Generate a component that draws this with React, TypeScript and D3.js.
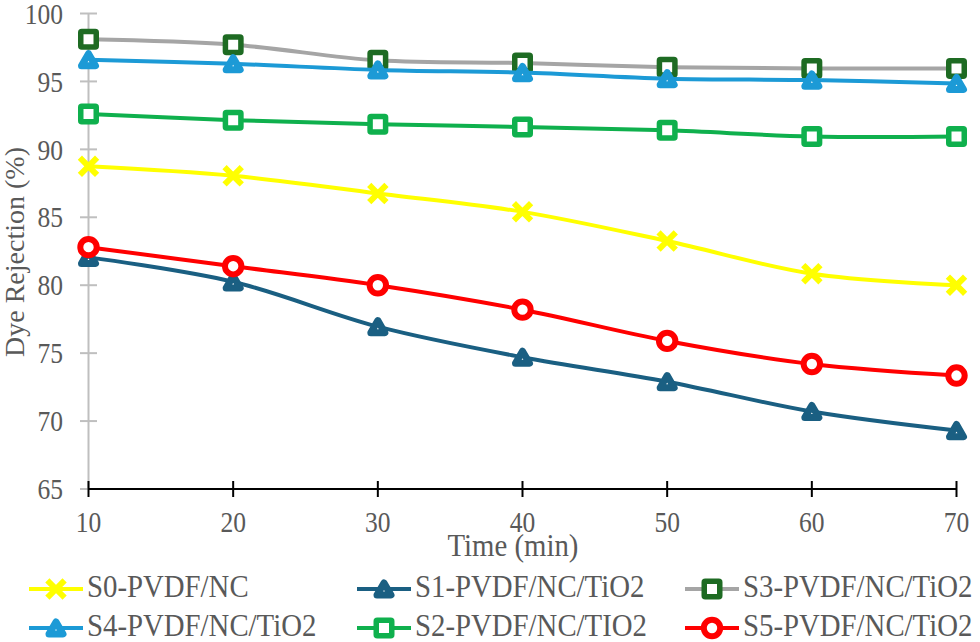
import { useEffect, useRef } from 'react';
import * as d3 from 'd3';

const times = [10, 20, 30, 40, 50, 60, 70];
const yTicks = [65, 70, 75, 80, 85, 90, 95, 100];

const s0 = [88.75, 88.05, 86.75, 85.4, 83.25, 80.85, 80.0];
const s1 = [82.05, 80.25, 76.95, 74.7, 72.9, 70.7, 69.3];
const s3 = [98.1, 97.7, 96.55, 96.35, 96.05, 95.95, 95.95];
const s4 = [96.6, 96.3, 95.85, 95.65, 95.2, 95.1, 94.85];
const s2 = [92.6, 92.15, 91.85, 91.65, 91.4, 90.95, 90.95];
const s5 = [82.8, 81.4, 80.0, 78.2, 75.9, 74.2, 73.35];

type Marker = 'x' | 'tri' | 'sq' | 'circ';

interface Series {
    name: string;
    values: number[];
    line: string;
    mark: string;
    marker: Marker;
}

// legend order, also draw order
const series: Series[] = [
    { name: 'S0-PVDF/NC', values: s0, line: '#ffff00', mark: '#ffff00', marker: 'x' },
    { name: 'S1-PVDF/NC/TiO2', values: s1, line: '#1a5f82', mark: '#1a5f82', marker: 'tri' },
    { name: 'S3-PVDF/NC/TiO2', values: s3, line: '#a5a5a5', mark: '#1e6b23', marker: 'sq' },
    { name: 'S4-PVDF/NC/TiO2', values: s4, line: '#1c9ad6', mark: '#1c9ad6', marker: 'tri' },
    { name: 'S2-PVDF/NC/TIO2', values: s2, line: '#0fb04d', mark: '#0fb04d', marker: 'sq' },
    { name: 'S5-PVDF/NC/TiO2', values: s5, line: '#ff0000', mark: '#ff0000', marker: 'circ' },
];

const FONT = '"Liberation Serif", "Times New Roman", serif';
const TXT = '#595959';

function drawMarker(g: d3.Selection<SVGGElement, unknown, null, undefined>, kind: Marker, color: string) {
    if (kind === 'x') {
        g.append('path').attr('d', 'M-6.5,-6.5L6.5,6.5M-6.5,6.5L6.5,-6.5')
            .attr('stroke', color).attr('stroke-width', 6).attr('stroke-linecap', 'square').attr('fill', 'none');
    } else if (kind === 'tri') {
        const s = 14, h = s * 0.866;
        g.append('path').attr('d', `M0,${-h / 2}L${s / 2},${h / 2}L${-s / 2},${h / 2}Z`)
            .attr('stroke', color).attr('stroke-width', 7).attr('stroke-linejoin', 'round').attr('fill', '#fff');
    } else if (kind === 'sq') {
        g.append('rect').attr('x', -7.75).attr('y', -7.75).attr('width', 15.5).attr('height', 15.5).attr('rx', 1)
            .attr('stroke', color).attr('stroke-width', 5.5).attr('fill', '#fff');
    } else {
        g.append('circle').attr('r', 8.2)
            .attr('stroke', color).attr('stroke-width', 6).attr('fill', '#fff');
    }
}

export default function App() {
    const svgRef = useRef<SVGSVGElement>(null);

    useEffect(() => {
        if (!svgRef.current) return;
        document.body.style.margin = '0';

        const svg = d3.select(svgRef.current);
        svg.selectAll('*').remove();

        const x = d3.scaleLinear().domain([10, 70]).range([88.5, 956.5]);
        const y = d3.scaleLinear().domain([65, 100]).range([489, 13.5]);

        // y axis (gray, crossing ticks)
        svg.append('line').attr('x1', x(10)).attr('x2', x(10)).attr('y1', y(100)).attr('y2', y(65))
            .attr('stroke', '#bfbfbf').attr('stroke-width', 2);
        for (const t of yTicks) {
            svg.append('line').attr('x1', x(10) - 8.5).attr('x2', x(10) + 8.5).attr('y1', y(t)).attr('y2', y(t))
                .attr('stroke', '#bfbfbf').attr('stroke-width', 2);
            svg.append('text')
                .attr('transform', `translate(63,${y(t)}) scale(0.88,1)`)
                .attr('dy', '0.35em').attr('text-anchor', 'end')
                .attr('font-family', FONT).attr('font-size', 29).attr('fill', TXT)
                .text(t);
        }

        // x axis (black, crossing ticks)
        svg.append('line').attr('x1', x(10)).attr('x2', x(70)).attr('y1', y(65)).attr('y2', y(65))
            .attr('stroke', '#000').attr('stroke-width', 2);
        for (const t of times) {
            svg.append('line').attr('x1', x(t)).attr('x2', x(t)).attr('y1', y(65) - 8).attr('y2', y(65) + 8)
                .attr('stroke', '#000').attr('stroke-width', 2);
            svg.append('text')
                .attr('transform', `translate(${x(t)},532) scale(0.88,1)`)
                .attr('text-anchor', 'middle')
                .attr('font-family', FONT).attr('font-size', 29).attr('fill', TXT)
                .text(t);
        }

        // axis titles
        svg.append('text')
            .attr('transform', `translate(513,556) scale(0.9,1)`)
            .attr('text-anchor', 'middle')
            .attr('font-family', FONT).attr('font-size', 32).attr('fill', TXT)
            .text('Time (min)');
        svg.append('text')
            .attr('transform', `translate(24,252) rotate(-90)`)
            .attr('text-anchor', 'middle')
            .attr('font-family', FONT).attr('font-size', 28).attr('fill', TXT)
            .text('Dye Rejection (%)');

        // series
        const line = d3.line<number>()
            .x((_, i) => x(times[i]))
            .y(d => y(d))
            .curve(d3.curveCatmullRom.alpha(0.5));

        for (const s of series) {
            const g = svg.append('g');
            g.append('path').attr('d', line(s.values)!)
                .attr('fill', 'none').attr('stroke', s.line).attr('stroke-width', 4)
                .attr('stroke-linejoin', 'round');
            s.values.forEach((v, i) => {
                const m = g.append('g').attr('transform', `translate(${x(times[i])},${y(v)})`);
                drawMarker(m, s.marker, s.mark);
            });
        }

        // legend, 3 columns x 2 rows
        const colX = [29, 357, 685];
        const rowY = [597, 636];
        series.forEach((s, i) => {
            const lx = colX[i % 3], ly = rowY[Math.floor(i / 3)];
            const lg = svg.append('g').attr('transform', `translate(${lx},${ly - 8})`);
            lg.append('line').attr('x1', 0).attr('x2', 54).attr('y1', 0).attr('y2', 0)
                .attr('stroke', s.line).attr('stroke-width', 4);
            const m = lg.append('g').attr('transform', 'translate(27,0)');
            drawMarker(m, s.marker, s.mark);
            svg.append('text')
                .attr('transform', `translate(${lx + 58},${ly}) scale(0.9,1)`)
                .attr('font-family', FONT).attr('font-size', 32).attr('fill', TXT)
                .text(s.name);
        });
    }, []);

    return <svg ref={svgRef} width={980} height={642} style={{ display: 'block', background: '#fff' }} />;
}
